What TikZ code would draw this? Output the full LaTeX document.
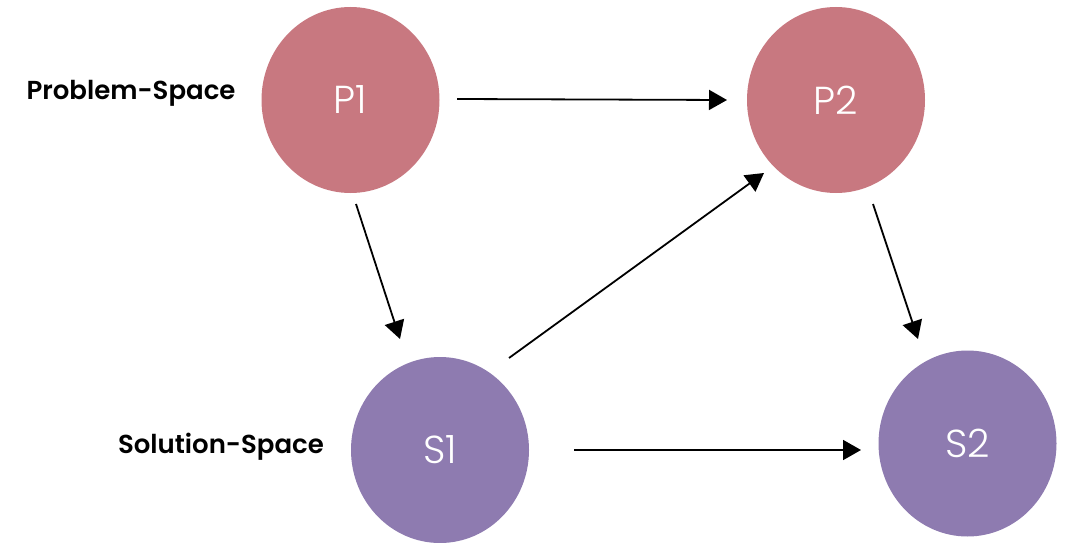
\documentclass[tikz,border=0pt]{standalone}
\usepackage{fontspec}
\setmainfont{Poppins}
\newfontfamily\labelfont{Poppins SemiBold}
\newfontfamily\statefont{Poppins Light}
\usetikzlibrary{shapes.geometric,arrows.meta,calc}
\definecolor{probfill}{HTML}{C87880}
\definecolor{solfill}{HTML}{8E7BB0}
\tikzset{
  space/.style={ellipse, minimum width=178pt, minimum height=186pt, inner sep=0pt,
    text=white, font=\statefont\fontsize{39}{40}\selectfont},
  prob/.style={space, fill=probfill},
  sol/.style={space, fill=solfill},
  sidelabel/.style={font=\labelfont\fontsize{26}{28}\selectfont, text=black},
  link/.style={line width=1.8pt, -{Triangle[length=18pt,width=20pt]}},
}
\begin{document}
\begin{tikzpicture}[x=1pt,y=-1pt]
  \useasboundingbox (0,0) rectangle (1084,543);
  % the four states
  \node[prob] (P1) at (350.5,100) {P1};
  \node[prob] (P2) at (836,100) {P2};
  \node[sol]  (S1) at (440,450) {S1};
  \node[sol]  (S2) at (967.5,443.5) {S2};
  % row labels
  \node[sidelabel] (lp) at (131,93) {Problem-Space};
  \node[sidelabel] (ls) at (221,447) {Solution-Space};
  % transitions
  \draw[link] ($(P1)+(106.5,-1)$) -- ($(P2)+(-109,0)$);
  \draw[link] ($(P1)+(5.5,104)$) -- ($(S1)+(-40,-111)$);
  \draw[link] ($(S1)+(69,-92)$) -- ($(P2)+(-72,73)$);
  \draw[link] ($(P2)+(37,104)$) -- ($(S2)+(-49.5,-104.5)$);
  \draw[link] ($(S1)+(134,0)$) -- ($(S2)+(-106.5,6.5)$);
\end{tikzpicture}
\end{document}
